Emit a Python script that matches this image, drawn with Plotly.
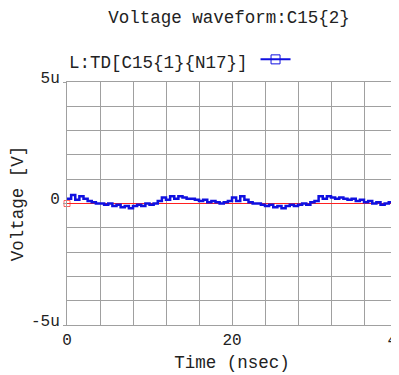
import plotly.graph_objects as go

# time axis (ns)
time_ns = [i * 0.5 for i in range(81)]
# voltage (micro-volts) of L:TD[C15{1}{N17}]
volt_uV = [0.2, 0.35, 0.15, 0.3, 0.2, 0.1, 0.05, 0.0, 0.0, -0.05,
           0.0, -0.1, -0.05, -0.15, -0.1, -0.2, -0.1, -0.05, -0.1, 0.0,
           -0.05, 0.0, 0.1, 0.25, 0.15, 0.3, 0.2, 0.3, 0.25, 0.2,
           0.2, 0.15, 0.1, 0.15, 0.05, 0.1, 0.05, 0.0, 0.05, 0.1,
           0.25, 0.1, 0.3, 0.15, 0.05, 0.0, 0.0, -0.05, -0.1, -0.05,
           -0.15, -0.1, -0.2, -0.1, -0.05, -0.1, -0.05, 0.0, -0.05, 0.05,
           0.1, 0.3, 0.2, 0.3, 0.25, 0.2, 0.25, 0.2, 0.15, 0.2,
           0.1, 0.15, 0.05, 0.1, 0.0, 0.05, -0.05, 0.0, 0.05, -0.05, 0.2]
ref_uV = [0.0] * 81

xtick_vals = [0, 20, 40]
xtick_text = ["0", "20", "40"]
ytick_vals = [-5e-6, 0, 5e-6]
ytick_text = ["-5u", "0", "5u"]

volt = [v * 1e-6 for v in volt_uV]
ref = [v * 1e-6 for v in ref_uV]

FONT = "Liberation Mono"
GRID = "#a0a0a0"

fig = go.Figure()
fig.add_trace(go.Scatter(x=time_ns, y=ref, mode="lines+markers",
                         line=dict(color="#ff2020", width=1),
                         marker=dict(symbol="square-open", color="#ff2020",
                                     size=[6] + [0] * 80),
                         showlegend=False, cliponaxis=False))
fig.add_trace(go.Scatter(x=time_ns, y=volt, mode="lines", line_shape="hv",
                         line=dict(color="#1010e0", width=2.5),
                         showlegend=False))
fig.add_trace(go.Scatter(x=[None], y=[None], mode="lines+markers",
                         line=dict(color="#1010e0", width=2),
                         marker=dict(symbol="square-open", color="#1010e0", size=9),
                         name=" "))

fig.update_layout(
    width=399, height=375,
    margin=dict(l=59, r=10, t=74, b=58, autoexpand=False),
    paper_bgcolor="white", plot_bgcolor="white",
    font=dict(family=FONT, color="#222", size=16),
    title=dict(text="Voltage waveform:C15{2}", x=0.554, xanchor="center",
               y=0.976, yanchor="middle", font=dict(size=17.5, family=FONT)),
    legend=dict(orientation="h", x=0.0, xanchor="left", y=1.017, yanchor="bottom",
                bgcolor="rgba(0,0,0,0)", itemwidth=30,
                title=dict(text="L:TD[C15{1}{N17}]", side="left",
                           font=dict(size=17.5, family=FONT)),
                font=dict(size=10)),
    xaxis=dict(range=[0, 40], tickvals=xtick_vals, ticktext=xtick_text,
               automargin=False,
               showgrid=True, gridcolor=GRID, gridwidth=1,
               minor=dict(dtick=4, showgrid=True, gridcolor=GRID, gridwidth=1),
               showline=True, linecolor=GRID, linewidth=1, mirror=True,
               zeroline=False, ticks="", tickfont=dict(size=16),
               title=dict(text="Time (nsec)", font=dict(size=17.5), standoff=6)),
    yaxis=dict(range=[-5e-6, 5e-6], tickvals=ytick_vals, ticktext=ytick_text,
               automargin=False, ticklabelshift=-5,
               showgrid=True, gridcolor=GRID, gridwidth=1,
               minor=dict(dtick=1e-6, showgrid=True, gridcolor=GRID, gridwidth=1),
               showline=True, linecolor=GRID, linewidth=1, mirror=True,
               zeroline=False, ticks="outside", ticklen=3, tickcolor=GRID,
               tickfont=dict(size=16),
               title=dict(text="Voltage [V]", font=dict(size=17.5), standoff=8)),
)

fig.write_html("out.html")
